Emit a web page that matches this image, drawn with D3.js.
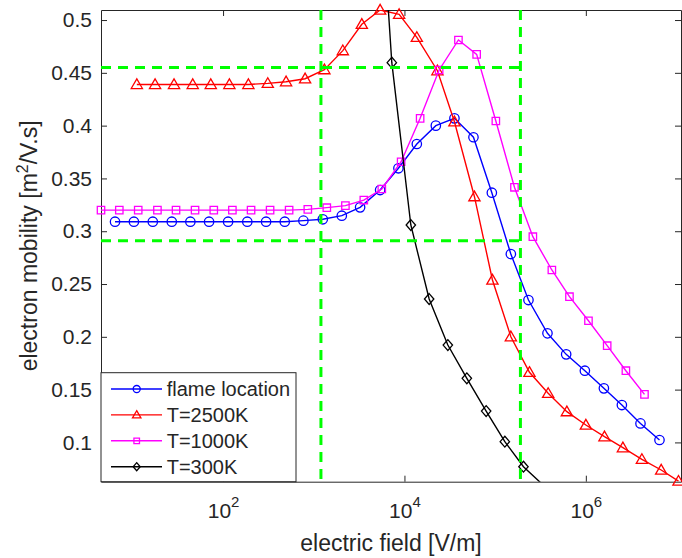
<!DOCTYPE html>
<html>
<head>
<meta charset="utf-8">
<script src="https://cdn.jsdelivr.net/npm/d3@7"></script>
<style>
  html, body { margin: 0; padding: 0; background: #ffffff; }
  svg { display: block; font-family: "Liberation Sans", Arial, Helvetica, sans-serif; }
</style>
</head>
<body>
<div id="chart"></div>
<script>
// electric field [V/m] and mobility [m^2/V.s]
const E_FLAME = [6.44, 10.4, 16.8, 27.2, 43.6, 70.1, 113.6, 185, 298, 479,
  769, 1258, 2038, 3244, 5391, 8580, 13690, 22180, 35580, 57660,
  91960, 149000, 233000, 377500, 606900, 975700, 1.581e6, 2.496e6, 4.004e6, 6.486e6];
const MU_FLAME = [0.309, 0.309, 0.309, 0.309, 0.309, 0.309, 0.309, 0.309, 0.309, 0.309,
  0.310, 0.3113, 0.3147, 0.3226, 0.339, 0.3596, 0.3826, 0.400, 0.4069, 0.389,
  0.3365, 0.2784, 0.2348, 0.2033, 0.1834, 0.1679, 0.1512, 0.1354, 0.118, 0.1023];

const E_2500 = [11.2, 17.8, 28.8, 46.3, 73.2, 117.4, 190.2, 311.3, 495.3, 802.6,
  1310, 2091, 3387, 5391, 8735, 13690, 23100, 35580, 59120, 93370,
  149000, 238900, 384200, 617700, 1.0007e6, 1.605e6, 2.562e6, 4.15e6, 6.773e6, 1.051e7];
const MU_2500 = [0.439, 0.439, 0.439, 0.439, 0.439, 0.439, 0.439, 0.440, 0.4416, 0.4444,
  0.453, 0.471, 0.496, 0.5095, 0.5054, 0.4836, 0.452, 0.4037, 0.3327, 0.2538,
  0.2001, 0.1664, 0.1465, 0.1291, 0.1165, 0.1054, 0.095, 0.084, 0.0739, 0.0634];

const E_1000 = [4.51, 7.18, 11.6, 18.9, 30.3, 49.1, 79.0, 126.7, 203.6, 330,
  535, 860, 1393, 2234, 3563, 5628, 9190, 14890, 24120, 39380,
  62520, 101800, 163300, 260500, 422000, 659800, 1.069e6, 1.719e6, 2.764e6, 4.432e6];
const MU_1000 = [0.320, 0.320, 0.320, 0.320, 0.320, 0.320, 0.320, 0.320, 0.320, 0.320,
  0.320, 0.3207, 0.3223, 0.3242, 0.3295, 0.340, 0.3658, 0.4069, 0.4527, 0.4811,
  0.4675, 0.4044, 0.3416, 0.2948, 0.2633, 0.238, 0.2152, 0.1916, 0.1679, 0.1455];

const E_300 = [4512, 7256, 11760, 18720, 30090, 48740, 79570, 127900, 205200, 329900];
const MU_300 = [0.73, 0.4596, 0.3059, 0.2358, 0.1922, 0.1607, 0.1297, 0.1007, 0.077, 0.0605];

// green guide lines
const GUIDE_MU = [0.455, 0.291];
const GUIDE_E = [1200, 1.9e5];

const X_TICKS = [1e2, 1e4, 1e6];
const X_TICK_EXP = ["2", "4", "6"];
const Y_TICKS = [0.1, 0.15, 0.2, 0.25, 0.3, 0.35, 0.4, 0.45, 0.5];
const Y_TICK_LABELS = ["0.1", "0.15", "0.2", "0.25", "0.3", "0.35", "0.4", "0.45", "0.5"];

const SERIES = [
  { label: "flame location", e: E_FLAME, mu: MU_FLAME, color: "#0000ff", marker: "circle" },
  { label: "T=2500K", e: E_2500, mu: MU_2500, color: "#ff0000", marker: "triangle" },
  { label: "T=1000K", e: E_1000, mu: MU_1000, color: "#ff00ff", marker: "square" },
  { label: "T=300K", e: E_300, mu: MU_300, color: "#000000", marker: "diamond" },
];

const AXIS_COLOR = "#262626";

function markerPath(type, s) {
  if (type === "circle") {
    return d3.symbol(d3.symbolCircle, Math.PI * s * s)();
  }
  if (type === "square") {
    return `M${-s},${-s}H${s}V${s}H${-s}Z`;
  }
  if (type === "triangle") {
    return `M0,${-s * 1.1}L${s * 1.1},${s * 0.8}L${-s * 1.1},${s * 0.8}Z`;
  }
  return `M0,${-s * 1.15}L${s},0L0,${s * 1.15}L${-s},0Z`;
}

const MARKER_SIZE = { circle: 4.7, square: 3.7, triangle: 5.1, diamond: 4.7 };

const width = 682;
const height = 558;
const plot = { left: 101, right: 681, top: 10, bottom: 481.7 };

const x = d3.scaleLog().domain([4.51, 1.12e7]).range([plot.left, plot.right]);
const y = d3.scaleLinear().domain([0.0628, 0.5095]).range([plot.bottom, plot.top]);

const svg = d3.select("#chart")
  .append("svg")
  .attr("width", width)
  .attr("height", height)
  .attr("viewBox", `0 0 ${width} ${height}`);

svg.append("defs")
  .append("clipPath")
  .attr("id", "plot-clip")
  .append("rect")
  .attr("x", plot.left)
  .attr("y", plot.top)
  .attr("width", plot.right - plot.left)
  .attr("height", plot.bottom - plot.top);

function styleAxis(g) {
  g.selectAll("path.domain").attr("stroke", AXIS_COLOR).attr("stroke-width", 1);
  g.selectAll(".tick line").attr("stroke", AXIS_COLOR).attr("stroke-width", 1);
  g.selectAll(".tick text").attr("fill", AXIS_COLOR);
}

// bottom axis, labels as 10^n
svg.append("g")
  .attr("transform", `translate(0,${plot.bottom})`)
  .call(d3.axisBottom(x).tickValues(X_TICKS).tickSize(-6).tickSizeOuter(0))
  .call(styleAxis)
  .call((g) => {
    g.selectAll(".tick text")
      .attr("y", 36.5)
      .attr("dy", null)
      .attr("font-size", 21)
      .attr("font-family", null)
      .text(null)
      .each(function (d, i) {
        const t = d3.select(this);
        t.append("tspan").text("10");
        t.append("tspan").attr("dy", -11).attr("font-size", 15).text(X_TICK_EXP[i]);
      });
  });

svg.append("g")
  .attr("transform", `translate(0,${plot.top})`)
  .call(d3.axisTop(x).tickValues(X_TICKS).tickSize(-6).tickSizeOuter(0).tickFormat(""))
  .call(styleAxis);

svg.append("g")
  .attr("transform", `translate(${plot.left},0)`)
  .call(d3.axisLeft(y).tickValues(Y_TICKS).tickSize(-6).tickSizeOuter(0).tickPadding(9)
    .tickFormat((d, i) => Y_TICK_LABELS[i]))
  .call(styleAxis)
  .call((g) => g.selectAll(".tick text").attr("font-size", 21).attr("font-family", null));

svg.append("g")
  .attr("transform", `translate(${plot.right},0)`)
  .call(d3.axisRight(y).tickValues(Y_TICKS).tickSize(-6).tickSizeOuter(0).tickFormat(""))
  .call(styleAxis);

// axis titles
svg.append("text")
  .attr("x", (plot.left + plot.right) / 2)
  .attr("y", 551)
  .attr("text-anchor", "middle")
  .attr("font-size", 23)
  .attr("fill", AXIS_COLOR)
  .text("electric field [V/m]");

const yTitle = svg.append("text")
  .attr("transform", `translate(37,${(plot.top + plot.bottom) / 2}) rotate(-90)`)
  .attr("text-anchor", "middle")
  .attr("font-size", 23)
  .attr("fill", AXIS_COLOR);
yTitle.append("tspan").text("electron mobility [m");
yTitle.append("tspan").attr("dy", -9).attr("font-size", 16).text("2");
yTitle.append("tspan").attr("dy", 9).text("/V.s]");

// data
const line = d3.line()
  .x((d) => x(d.e))
  .y((d) => y(d.mu));

const inView = (d) =>
  d.e >= x.domain()[0] && d.e <= x.domain()[1] &&
  d.mu >= y.domain()[0] && d.mu <= y.domain()[1];

SERIES.forEach((series) => {
  const points = series.e.map((e, i) => ({ e, mu: series.mu[i] }));

  svg.append("path")
    .datum(points)
    .attr("clip-path", "url(#plot-clip)")
    .attr("fill", "none")
    .attr("stroke", series.color)
    .attr("stroke-width", 1.4)
    .attr("d", line);

  svg.append("g")
    .selectAll("path")
    .data(points.filter(inView))
    .join("path")
    .attr("transform", (d) => `translate(${x(d.e)},${y(d.mu)})`)
    .attr("d", markerPath(series.marker, MARKER_SIZE[series.marker]))
    .attr("fill", "none")
    .attr("stroke", series.color)
    .attr("stroke-width", 1.3);
});

// green dashed guides
const guides = svg.append("g")
  .attr("clip-path", "url(#plot-clip)")
  .attr("stroke", "#00ff00")
  .attr("stroke-width", 3)
  .attr("stroke-dasharray", "10,7")
  .attr("fill", "none");

GUIDE_MU.forEach((mu) => {
  guides.append("line")
    .attr("x1", x(x.domain()[0]))
    .attr("x2", x(GUIDE_E[1]))
    .attr("y1", y(mu))
    .attr("y2", y(mu));
});

GUIDE_E.forEach((e) => {
  guides.append("line")
    .attr("x1", x(e))
    .attr("x2", x(e))
    .attr("y1", y(y.domain()[1]))
    .attr("y2", y(y.domain()[0]));
});

// legend
const legend = svg.append("g").attr("transform", `translate(${plot.left},372.7)`);

legend.append("rect")
  .attr("width", 195)
  .attr("height", plot.bottom - 372.7)
  .attr("fill", "#ffffff")
  .attr("stroke", AXIS_COLOR)
  .attr("stroke-width", 1);

SERIES.forEach((series, index) => {
  const row = legend.append("g")
    .attr("transform", `translate(0,${16.3 + index * 25.9})`);
  row.append("line")
    .attr("x1", 10)
    .attr("x2", 61)
    .attr("stroke", series.color)
    .attr("stroke-width", 1.4);
  row.append("path")
    .attr("transform", "translate(35.7,0)")
    .attr("d", markerPath(series.marker, MARKER_SIZE[series.marker] * 0.75))
    .attr("fill", "none")
    .attr("stroke", series.color)
    .attr("stroke-width", 1.3);
  row.append("text")
    .attr("x", 65.7)
    .attr("dy", "0.35em")
    .attr("font-size", 20)
    .attr("fill", AXIS_COLOR)
    .text(series.label);
});
</script>
</body>
</html>
